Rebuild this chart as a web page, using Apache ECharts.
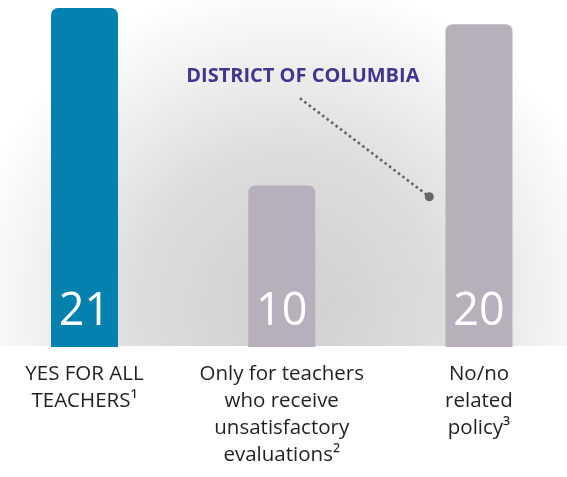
<!DOCTYPE html>
<html>
<head>
<meta charset="utf-8">
<script src="https://cdn.jsdelivr.net/npm/echarts@6/dist/echarts.min.js"></script>
<style>
  html, body { margin: 0; padding: 0; background: #ffffff; }
  #chart { width: 567px; height: 477px; }
</style>
</head>
<body>
<div id="chart"></div>
<script>
// Categories (line-broken as printed) with their footnote marks
const categories = [
  'YES FOR ALL\nTEACHERS¹',
  'Only for teachers\nwho receive\nunsatisfactory\nevaluations²',
  'No/no\nrelated\npolicy³'
];
// Number of states in each category
const stateCounts = [21, 10, 20];
const barColors = ['#0481ae', '#b7b0bc', '#b7b0bc'];

// Callout for the District of Columbia: text anchor and leader line ends
const calloutText = 'DISTRICT OF COLUMBIA';
const calloutLabelAt = [1.107, 16.75];
const calloutFrom = [1.092, 15.41];
const calloutTo = [1.748, 9.31];

const FONT = '"Open Sans", "Noto Sans", sans-serif';

const chart = echarts.init(document.getElementById('chart'), null, { renderer: 'canvas' });

chart.setOption({
  backgroundColor: '#ffffff',
  animation: false,
  graphic: [{
    type: 'rect',
    z: -100,
    silent: true,
    shape: { x: 0, y: 0, width: 567, height: 346 },
    style: {
      fill: new echarts.graphic.RadialGradient(0.51, 0.88, 0.95, [
        { offset: 0, color: '#cfcfcf' },
        { offset: 0.45, color: '#dcdcdc' },
        { offset: 0.8, color: '#f3f3f3' },
        { offset: 1, color: '#ffffff' }
      ])
    }
  }],
  grid: {
    left: -14.1, right: -10.6, top: 8, bottom: 130,
    containLabel: false,
    outerBoundsMode: 'none'
  },
  xAxis: [{
    type: 'category',
    data: categories,
    axisLine: { show: false },
    axisTick: { show: false },
    axisLabel: {
      margin: 14,
      interval: 0,
      color: '#231f20',
      fontFamily: FONT,
      fontSize: 20.5,
      lineHeight: 27,
      align: 'center',
      verticalAlign: 'top'
    }
  }, {
    type: 'value',
    min: -0.5,
    max: 2.5,
    show: false
  }],
  yAxis: [{
    type: 'value',
    min: 0,
    max: 21,
    show: false
  }],
  series: [{
    type: 'bar',
    xAxisIndex: 0,
    barWidth: 67,
    data: stateCounts.map((v, i) => ({
      value: v,
      itemStyle: { color: barColors[i], borderRadius: [7, 7, 0, 0] }
    })),
    label: {
      show: true,
      position: 'insideBottom',
      distance: 12,
      color: '#ffffff',
      fontFamily: FONT,
      fontSize: 45,
      lineHeight: 45
    },
    silent: true
  }, {
    type: 'line',
    xAxisIndex: 1,
    data: [
      { value: calloutFrom, symbol: 'none' },
      { value: calloutTo, symbol: 'circle', symbolSize: 9 }
    ],
    showSymbol: true,
    lineStyle: { color: '#666666', width: 2.6, type: [2.6, 3] },
    itemStyle: { color: '#666666', opacity: 1 },
    silent: true,
    z: 5
  }, {
    type: 'scatter',
    xAxisIndex: 1,
    symbolSize: 0,
    data: [calloutLabelAt],
    itemStyle: { opacity: 1 },
    label: {
      show: true,
      position: 'inside',
      formatter: calloutText,
      color: '#45358f',
      fontFamily: FONT,
      fontWeight: 'bold',
      fontSize: 20
    },
    silent: true,
    z: 5
  }]
});
</script>
</body>
</html>
